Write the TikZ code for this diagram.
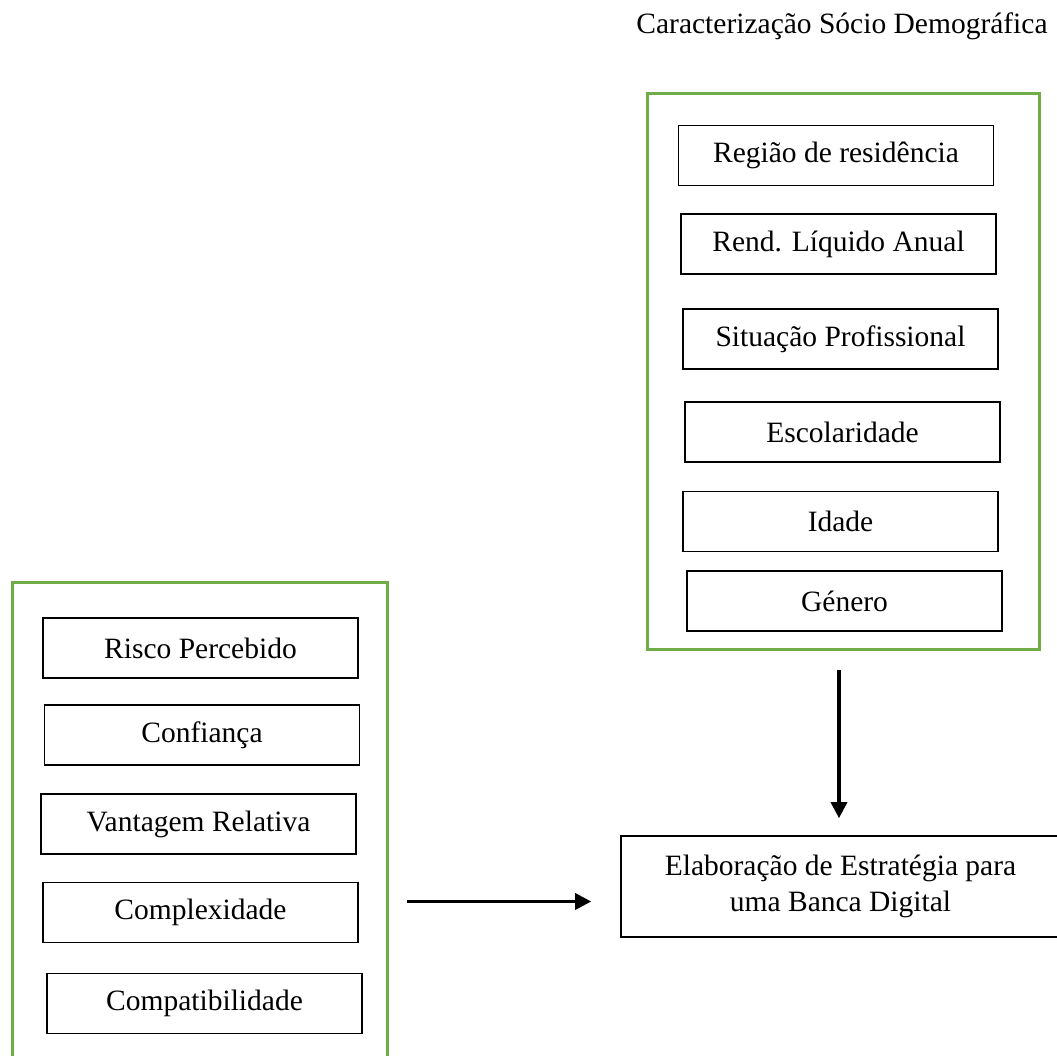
\documentclass[tikz,border=0pt]{standalone}
\usepackage{fontspec}
\setmainfont{Liberation Serif}
\usetikzlibrary{arrows.meta}
\definecolor{boxgreen}{RGB}{112,173,71}
\tikzset{
  itembox/.style={draw=black, line width=1.6pt, minimum width=315pt, minimum height=60pt, inner sep=0pt, font=\fontsize{29.5}{36}\selectfont},
  groupbox/.style={draw=boxgreen, line width=3pt},
  arr/.style={line width=3.4pt, -{Triangle[length=16pt,width=16pt]}}
}
\begin{document}
\begin{tikzpicture}[x=1pt,y=-1pt]
\useasboundingbox (0,0) rectangle (1057,1056);
\clip (0,0) rectangle (1057,1056);
% title
\node[font=\fontsize{29.5}{36}\selectfont, inner sep=0pt] (title) at (842,26) {Caracterização Sócio Demográfica};
% right group
\draw[groupbox] (647,94) rectangle (1039,649);
\node[itembox] (reg)  at (836,155.5) {Região de residência};
\node[itembox] (rend) at (838.5,244) {Rend. Líquido Anual};
\node[itembox] (sit)  at (840.5,339) {Situação Profissional};
\node[itembox] (esc)  at (842.5,432) {Escolaridade};
\node[itembox] (ida)  at (840.5,521.5) {Idade};
\node[itembox] (gen)  at (844.5,601) {Género};
% left group
\draw[groupbox] (12,1070) -- (12,582) -- (387,582) -- (387,1070);
\node[itembox] (risco)  at (200.5,648) {Risco Percebido};
\node[itembox] (conf)   at (202,735) {Confiança};
\node[itembox] (vant)   at (198.5,824) {Vantagem Relativa};
\node[itembox] (compl)  at (200.5,912.5) {Complexidade};
\node[itembox] (compat) at (204.5,1003.5) {Compatibilidade};
% result box
\node[draw=black, line width=1.6pt, minimum width=439pt, minimum height=101pt, inner sep=0pt, align=center, font=\fontsize{29.5}{36}\selectfont] (elab) at (840.5,886.5) {Elaboração de Estratégia para\\uma Banca Digital};
% arrows
\coordinate (vtop) at (839,670);
\coordinate (hstart) at (407,901.5);
\draw[arr, shorten >=17pt] (vtop) -- (vtop |- elab.north);
\draw[arr, shorten >=29pt] (hstart) -- (hstart -| elab.west);
\end{tikzpicture}
\end{document}
